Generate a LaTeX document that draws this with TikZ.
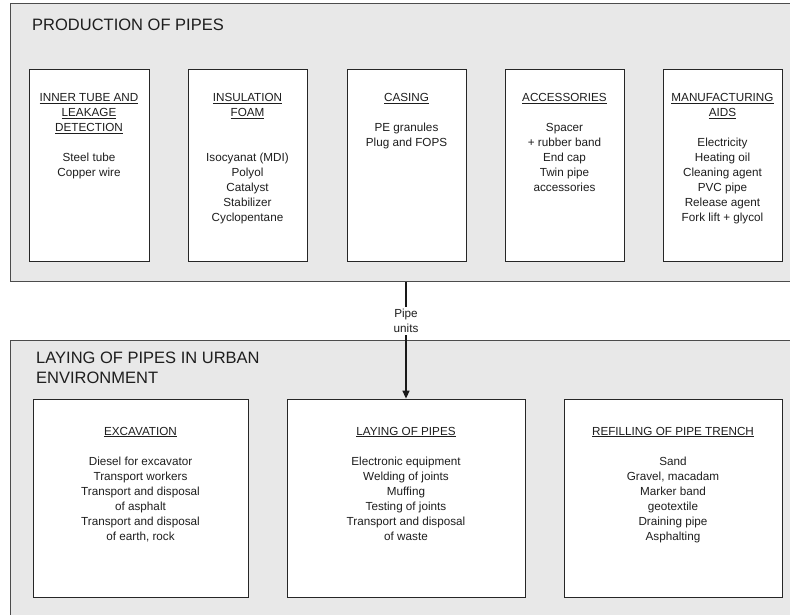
\documentclass[tikz,border=0pt]{standalone}
\usepackage{fontspec}
\setmainfont{Liberation Sans}
\usetikzlibrary{arrows.meta}
\definecolor{panelfill}{HTML}{E8E8E8}
\definecolor{txt}{HTML}{1E1E1E}
\tikzset{
  panel/.style={draw=black!70, line width=0.9pt, fill=panelfill, inner sep=0pt, anchor=north west},
  box/.style={draw=black!85, line width=0.8pt, fill=white, inner sep=0pt},
  boxtext/.style={align=center, anchor=north, inner sep=0pt, text=txt,
    font=\fontsize{11.7}{15}\selectfont},
  title/.style={align=left, anchor=north west, inner sep=0pt, text=txt,
    font=\fontsize{16.5}{20}\selectfont},
  flow/.style={line width=1.4pt, draw=black!90, -{Triangle[length=8pt,width=7pt]}},
  flowlabel/.style={fill=white, align=center, inner sep=2pt, text=txt,
    font=\fontsize{11.7}{15}\selectfont}
}
\newcommand{\hd}[1]{\underline{#1}}
\begin{document}
\begin{tikzpicture}[x=1pt,y=-1pt]
\useasboundingbox (0,0) rectangle (790,614);
\clip (0,0) rectangle (790,614);
\fill[white] (0,0) rectangle (790,614);

% panels
\node[panel, minimum width=800pt, minimum height=278pt] (top) at (10,3) {};
\node[panel, minimum width=800pt, minimum height=290pt] (bot) at (10,340) {};

\node[title] (ttop) at (32,19) {PRODUCTION OF PIPES};
\node[title] (tbot) at (36,351.5) {LAYING OF PIPES IN URBAN\\ENVIRONMENT};

% production boxes
\node[box, minimum width=120pt, minimum height=192pt] (b1) at (89,165) {};
\node[box, minimum width=119pt, minimum height=192pt] (b2) at (247.5,165) {};
\node[box, minimum width=119pt, minimum height=192pt] (b3) at (406.5,165) {};
\node[box, minimum width=119pt, minimum height=192pt] (b4) at (564.5,165) {};
\node[box, minimum width=119pt, minimum height=192pt] (b5) at (722.5,165) {};

\node[boxtext] (t1) at (89,93) {\hd{INNER TUBE AND}\\\hd{LEAKAGE}\\\hd{DETECTION}\\[15pt]Steel tube\\Copper wire};
\node[boxtext] (t2) at (247.5,93) {\hd{INSULATION}\\\hd{FOAM}\\[30pt]Isocyanat (MDI)\\Polyol\\Catalyst\\Stabilizer\\Cyclopentane};
\node[boxtext] (t3) at (406.5,93) {\hd{CASING}\\[15pt]PE granules\\Plug and FOPS};
\node[boxtext] (t4) at (564.5,93) {\hd{ACCESSORIES}\\[15pt]Spacer\\+ rubber band\\End cap\\Twin pipe\\accessories};
\node[boxtext] (t5) at (722.5,93) {\hd{MANUFACTURING}\\\hd{AIDS}\\[15pt]Electricity\\Heating oil\\Cleaning agent\\PVC pipe\\Release agent\\Fork lift + glycol};

% laying boxes
\node[box, minimum width=215pt, minimum height=198pt] (ba) at (140.5,498) {};
\node[box, minimum width=238pt, minimum height=198pt] (bb) at (406,498) {};
\node[box, minimum width=218pt, minimum height=198pt] (bc) at (673,498) {};

\node[boxtext] (ta) at (140.5,426.8) {\hd{EXCAVATION}\\[15pt]Diesel for excavator\\Transport workers\\Transport and disposal\\of asphalt\\Transport and disposal\\of earth, rock};
\node[boxtext] (tb) at (406,426.8) {\hd{LAYING OF PIPES}\\[15pt]Electronic equipment\\Welding of joints\\Muffing\\Testing of joints\\Transport and disposal\\of waste};
\node[boxtext] (tc) at (673,426.8) {\hd{REFILLING OF PIPE TRENCH}\\[15pt]Sand\\Gravel, macadam\\Marker band\\geotextile\\Draining pipe\\Asphalting};

% connector
\coordinate (src) at (top.south -| bb.north);
\draw[flow] (src) -- (bb.north);
\node[flowlabel] (lbl) at (406,321) {Pipe\\units};
\end{tikzpicture}
\end{document}
